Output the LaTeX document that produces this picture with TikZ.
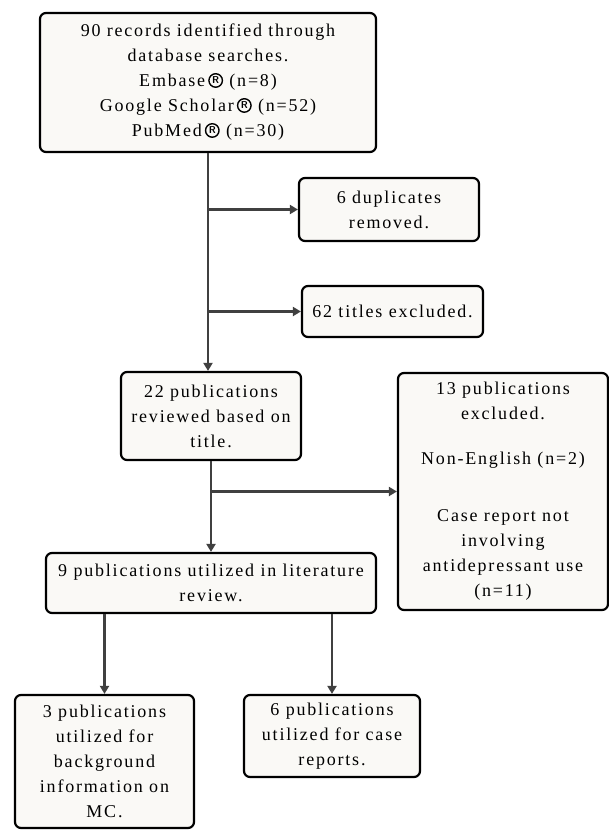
\documentclass[tikz,border=0pt]{standalone}
\usepackage{fontspec}
\setmainfont{Liberation Serif}[LetterSpace=10]
\usetikzlibrary{arrows.meta}
\definecolor{paper}{HTML}{FAF9F6}
\definecolor{linkgray}{HTML}{404040}
\newcommand{\reg}{\,\tikz[baseline=1pt]
  \node[circle, draw=black, fill=none, line width=1.4pt, inner sep=0pt, anchor=south,
    minimum size=13.5pt, font=\sffamily\bfseries\fontsize{10}{10}\selectfont] {R};}
\tikzset{
  stage/.style={draw=black, line width=2.2pt, rounded corners=6pt, fill=paper,
    align=center, inner sep=0pt, font=\fontsize{18}{25}\selectfont},
  flow/.style={draw=linkgray, line width=2.4pt, -{Triangle[length=8pt,width=9pt]}}
}

\begin{document}
\begin{tikzpicture}[x=1pt, y=-1pt]
  \useasboundingbox (0,0) rectangle (609,830);

  \node[stage, minimum width=336pt, minimum height=139pt] (records) at (208,82.5)
    {90 records identified through\\database searches.\\Embase\reg{} (n=8)\\
     Google Scholar\reg{} (n=52)\\PubMed\reg{} (n=30)};
  \node[stage, minimum width=180pt, minimum height=63pt] (dupl) at (389,209.5)
    {6 duplicates\\removed.};
  \node[stage, minimum width=181pt, minimum height=51pt] (titles) at (392.5,311.5)
    {62 titles excluded.};
  \node[stage, minimum width=180pt, minimum height=88pt] (review) at (211,416)
    {22 publications\\reviewed based on\\title.};
  \node[stage, minimum width=210pt, minimum height=237pt] (excl) at (503,491.5)
    {13 publications\\excluded.\\[20pt]Non-English (n=2)\\[32pt]Case report not\\
     involving\\antidepressant use\\(n=11)};
  \node[stage, minimum width=330pt, minimum height=60pt] (lit) at (211,583)
    {9 publications utilized in literature\\review.};
  \node[stage, minimum width=179pt, minimum height=133pt] (backgr) at (104.5,761.5)
    {3 publications\\utilized for\\background\\information on\\MC.};
  \node[stage, minimum width=176pt, minimum height=82pt] (cases) at (332,736)
    {6 publications\\utilized for case\\reports.};

  \draw[flow] (records.south) -- (records.south |- review.north);
  \draw[flow] (records.south |- dupl.west) -- (dupl.west);
  \draw[flow] (records.south |- titles.west) -- (titles.west);
  \draw[flow] (review.south) -- (lit.north);
  \draw[flow] (review.south |- excl.west) -- (excl.west);
  \draw[flow] (lit.south -| backgr.north) -- (backgr.north);
  \draw[flow] (lit.south -| cases.north) -- (cases.north);
\end{tikzpicture}
\end{document}
